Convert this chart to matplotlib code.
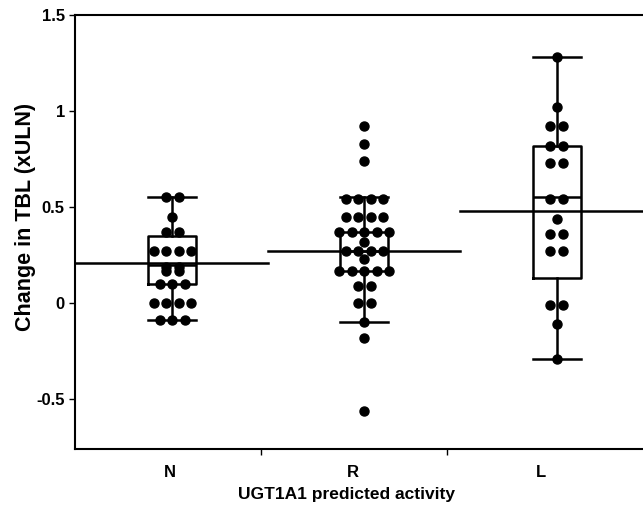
import numpy as np
import matplotlib
matplotlib.use("Agg")
import matplotlib.pyplot as plt

plt.rcParams['font.family'] = ['Liberation Sans', 'DejaVu Sans']

categories = ["N", "R", "L"]

n_values = [0.55, 0.55, 0.45, 0.37, 0.37, 0.27, 0.27, 0.27, 0.27, 0.19, 0.19,
            0.17, 0.17, 0.10, 0.10, 0.10, 0.0, 0.0, 0.0, 0.0, -0.09, -0.09, -0.09]
r_values = [0.92, 0.83, 0.74, 0.54, 0.54, 0.54, 0.54, 0.45, 0.45, 0.45, 0.45,
            0.37, 0.37, 0.37, 0.37, 0.37, 0.32, 0.27, 0.27, 0.27, 0.27, 0.23,
            0.17, 0.17, 0.17, 0.17, 0.17, 0.09, 0.09, 0.0, 0.0, -0.10, -0.18, -0.56]
l_values = [1.28, 1.02, 0.92, 0.92, 0.82, 0.82, 0.73, 0.73, 0.54, 0.54, 0.44,
            0.36, 0.36, 0.27, 0.27, -0.01, -0.01, -0.11, -0.29]

# box statistics
q1 = [0.10, 0.17, 0.13]
medians = [0.20, 0.27, 0.55]
q3 = [0.35, 0.37, 0.82]
whisker_low = [-0.09, -0.10, -0.29]
whisker_high = [0.55, 0.55, 1.28]
means = [0.21, 0.27, 0.48]

groups = [n_values, r_values, l_values]

fig = plt.figure(figsize=(6.43, 5.14), dpi=100)
ax = fig.add_axes([0.117, 0.126, 0.883, 0.845])

positions = np.arange(len(categories))
box_w = 0.25
stats = []
for i in range(len(categories)):
    stats.append(dict(med=medians[i], q1=q1[i], q3=q3[i],
                      whislo=whisker_low[i], whishi=whisker_high[i], label=categories[i]))
lp = dict(color='black', linewidth=1.8)
ax.bxp(stats, positions=positions, widths=box_w, capwidths=box_w, showfliers=False,
       boxprops=lp, whiskerprops=lp, capprops=lp, medianprops=lp, manage_ticks=False)

# points: equal values spread symmetrically in a row
spacing = 0.065
for i, vals in enumerate(groups):
    vals = np.array(vals)
    for v in np.unique(vals):
        n = int(np.sum(vals == v))
        offs = (np.arange(n) - (n - 1) / 2) * spacing
        ax.plot(positions[i] + offs, [v] * n, 'o', color='black', markersize=6.5,
                linestyle='none', zorder=3)

# mean lines across each category region
for i, m in enumerate(means):
    ax.plot([positions[i] - 0.5, positions[i] + 0.5], [m, m], color='black',
            linewidth=1.8, zorder=2)

ax.set_xlim(-0.505, 2.45)
ax.set_ylim(-0.76, 1.5)
ax.set_yticks([-0.5, 0, 0.5, 1, 1.5])
ax.set_yticklabels(["-0.5", "0", "0.5", "1", "1.5"], fontsize=12, fontweight='bold')
ax.set_xticks([-0.01, 0.94, 1.92])
ax.set_xticklabels(categories, fontsize=12, fontweight='bold')
ax.tick_params(axis='x', length=0, pad=11)
ax.set_xticks([0.46, 1.43], minor=True)
ax.tick_params(axis='x', which='minor', length=4, direction='out', width=1)
ax.tick_params(axis='y', length=4, direction='out', width=1)

ax.spines['right'].set_visible(False)
for s in ['left', 'top', 'bottom']:
    ax.spines[s].set_linewidth(1.5)

ax.set_xlabel("UGT1A1 predicted activity", fontsize=12.5, fontweight='bold')
ax.set_ylabel("Change in TBL (xULN)", fontsize=15.5, fontweight='bold')
ax.xaxis.set_label_coords(0.477, -0.087)
ax.yaxis.set_label_coords(-0.069, 0.535)

fig.savefig("out.png", dpi=100)
